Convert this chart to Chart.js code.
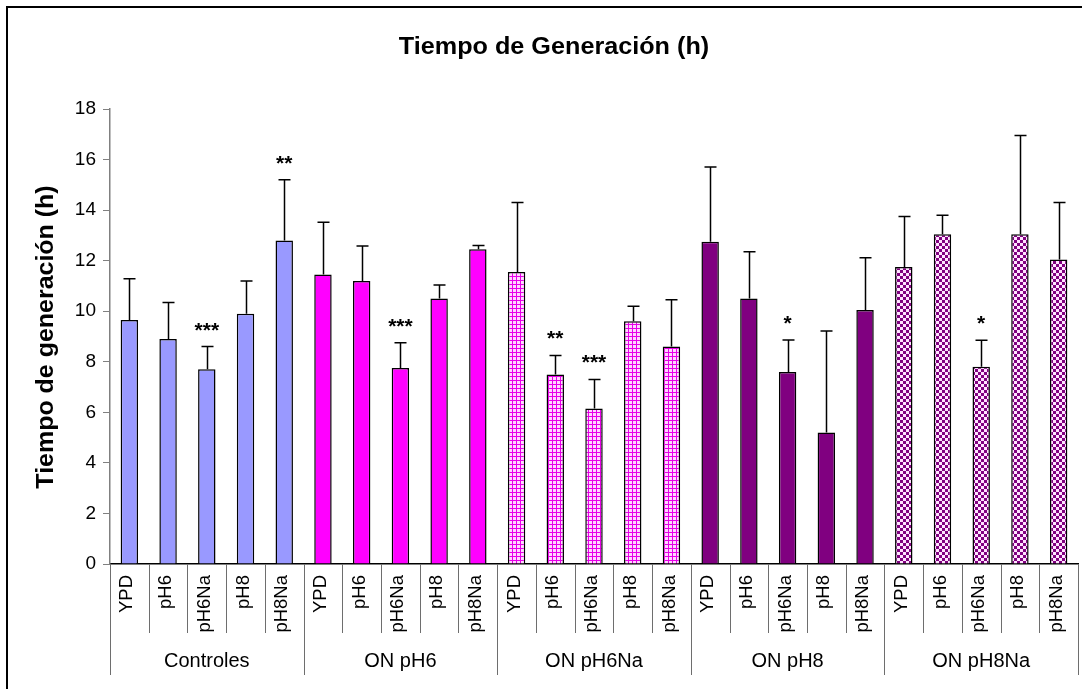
<!DOCTYPE html>
<html>
<head>
<meta charset="utf-8">
<script src="https://cdn.jsdelivr.net/npm/chart.js@4.4.1/dist/chart.umd.min.js"></script>
<style>
  html, body { margin: 0; padding: 0; background: #fff; }
</style>
</head>
<body>
<canvas id="chart" width="1082" height="689"></canvas>
<script>
// groups of conditions and media on the x axis
const groups = ["Controles", "ON pH6", "ON pH6Na", "ON pH8", "ON pH8Na"];
const media = ["YPD", "pH6", "pH6Na", "pH8", "pH8Na"];

// generation time (h), 5 media per group
const genTime = [
  9.65, 8.9, 7.7, 9.9, 12.8,
  11.45, 11.2, 7.75, 10.5, 12.45,
  11.55, 7.5, 6.15, 9.6, 8.6,
  12.75, 10.5, 7.6, 5.2, 10.05,
  11.75, 13.05, 7.8, 13.05, 12.05
];

// upper error (SD)
const genErr = [
  1.63, 1.45, 0.9, 1.3, 2.4,
  2.07, 1.38, 1.0, 0.54, 0.15,
  2.75, 0.75, 1.15, 0.6, 1.85,
  2.96, 1.85, 1.26, 4.02, 2.07,
  2.0, 0.75, 1.05, 3.9, 2.25
];

// significance marks
const signif = [
  "", "", "***", "", "**",
  "", "", "***", "", "",
  "", "**", "***", "", "",
  "", "", "*", "", "",
  "", "", "*", "", ""
];

const yTicks = [0, 2, 4, 6, 8, 10, 12, 14, 16, 18];

const labels = [];
groups.forEach(() => media.forEach((m) => labels.push(m)));

const FONT = '"Liberation Sans", Arial, sans-serif';

// small repeating fills for the hatched groups
function gridPattern() {
  const c = document.createElement("canvas");
  c.width = 4; c.height = 4;
  const g = c.getContext("2d");
  g.fillStyle = "#FFD6FF";
  g.fillRect(0, 0, 4, 4);
  g.fillStyle = "#E800E8";
  g.fillRect(0, 0, 4, 1);
  g.fillRect(0, 0, 1, 4);
  return g.createPattern(c, "repeat");
}

function checkerPattern() {
  const c = document.createElement("canvas");
  c.width = 6; c.height = 6;
  const g = c.getContext("2d");
  g.fillStyle = "#FFE4FF";
  g.fillRect(0, 0, 6, 6);
  g.fillStyle = "#800080";
  g.fillRect(0, 0, 3, 3);
  g.fillRect(3, 3, 3, 3);
  return g.createPattern(c, "repeat");
}

const groupFills = ["#9999FF", "#FF00FF", gridPattern(), "#800080", checkerPattern()];
const fills = labels.map((_, i) => groupFills[Math.floor(i / media.length)]);

function text(ctx, str, x, y, o) {
  ctx.save();
  ctx.translate(x, y);
  if (o.rot) ctx.rotate(o.rot);
  ctx.scale(o.sx || 1, 1);
  ctx.font = (o.bold ? "bold " : "") + o.size + "px " + FONT;
  ctx.textAlign = o.align || "center";
  ctx.textBaseline = o.base || "middle";
  ctx.fillStyle = "#000";
  ctx.fillText(str, 0, 0);
  ctx.restore();
}

const decorations = {
  id: "decorations",
  afterDatasetsDraw(chart) {
    const ctx = chart.ctx;
    const y = chart.scales.y;
    const meta = chart.getDatasetMeta(0);

    // error bars + significance
    ctx.save();
    ctx.strokeStyle = "#000";
    ctx.lineWidth = 1.5;
    meta.data.forEach((bar, i) => {
      const top = y.getPixelForValue(genTime[i] + genErr[i]);
      const bx = Math.round(bar.x) + 0.5;
      ctx.beginPath();
      ctx.moveTo(bx, bar.y);
      ctx.lineTo(bx, top);
      ctx.moveTo(bx - 6, top);
      ctx.lineTo(bx + 6, top);
      ctx.stroke();
      if (signif[i]) {
        text(ctx, signif[i], bar.x, top - 10, { size: 21, bold: true, base: "alphabetic" });
      }
    });
    ctx.restore();
  },
  afterDraw(chart) {
    const ctx = chart.ctx;
    const x = chart.scales.x;
    const y = chart.scales.y;
    const area = chart.chartArea;
    const step = (area.right - area.left) / labels.length;

    // outer frame
    ctx.save();
    ctx.strokeStyle = "#000";
    ctx.lineWidth = 2;
    ctx.strokeRect(7, 7, 1090, 700);
    ctx.restore();

    // titles
    text(ctx, "Tiempo de Generación (h)", 554, 47, { size: 24, bold: true, sx: 1.05 });
    text(ctx, "Tiempo de generación (h)", 46, 337, { size: 24, bold: true, sx: 1.04, rot: -Math.PI / 2 });

    // y tick labels
    yTicks.forEach((v) => {
      text(ctx, String(v), 96, y.getPixelForValue(v), { size: 19, align: "right" });
    });

    // x tick labels, rotated
    labels.forEach((l, i) => {
      text(ctx, l, x.getPixelForValue(i) - 2, area.bottom + 11, { size: 18.5, align: "right", rot: -Math.PI / 2 });
    });

    // category dividers below the axis
    ctx.save();
    ctx.strokeStyle = "#6E6E6E";
    ctx.lineWidth = 1;
    for (let i = 0; i <= labels.length; i++) {
      const lx = Math.round(area.left + i * step) + 0.5;
      const end = i % media.length === 0 ? 675 : 633;
      ctx.beginPath();
      ctx.moveTo(lx, area.bottom);
      ctx.lineTo(lx, end);
      ctx.stroke();
    }
    ctx.restore();

    // group labels
    groups.forEach((g, gi) => {
      const cx = area.left + (gi + 0.5) * media.length * step;
      text(ctx, g, cx, 661, { size: 20 });
    });
  }
};

new Chart(document.getElementById("chart"), {
  type: "bar",
  data: {
    labels: labels,
    datasets: [
      {
        data: genTime,
        backgroundColor: fills,
        borderColor: "#000",
        borderWidth: 1.5,
        barPercentage: 0.45,
        categoryPercentage: 1
      }
    ]
  },
  options: {
    responsive: false,
    animation: false,
    devicePixelRatio: 1,
    layout: { padding: { top: 109, right: 4, left: 0, bottom: 0 } },
    plugins: {
      legend: { display: false },
      title: { display: false },
      tooltip: { enabled: false }
    },
    scales: {
      x: {
        ticks: { display: false },
        grid: { display: false },
        border: { display: true, color: "#000", width: 1.5 },
        afterFit: (s) => { s.height = 125; }
      },
      y: {
        min: 0,
        max: 18,
        ticks: { display: false, stepSize: 2 },
        grid: { drawOnChartArea: false, drawTicks: true, tickLength: 7, color: "#808080" },
        border: { display: true, color: "#808080", width: 1.5 },
        afterFit: (s) => { s.width = 110; }
      }
    }
  },
  plugins: [decorations]
});
</script>
</body>
</html>
